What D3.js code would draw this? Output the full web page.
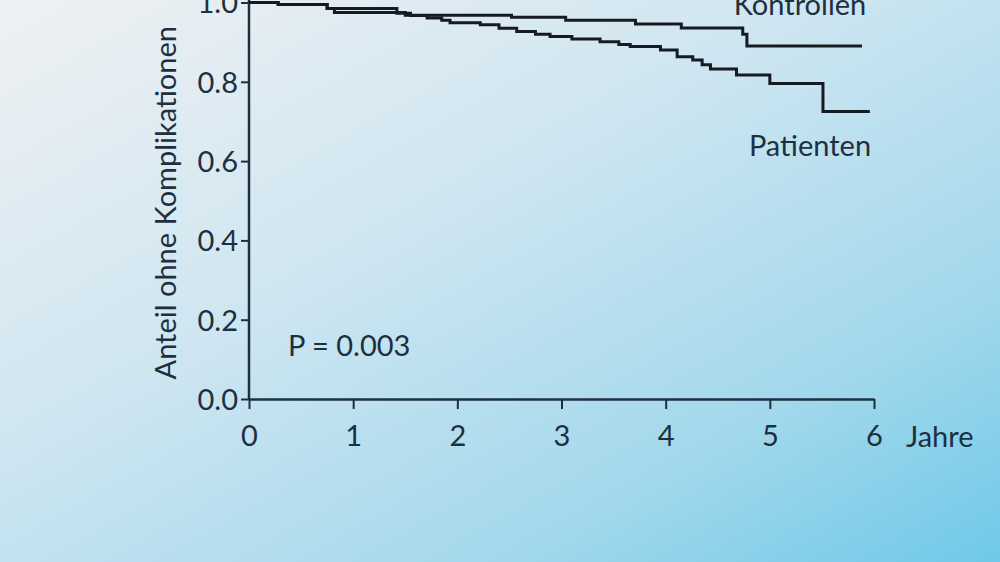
<!DOCTYPE html>
<html>
<head>
<meta charset="utf-8">
<script src="https://cdn.jsdelivr.net/npm/d3@7"></script>
<style>
  html, body { margin: 0; padding: 0; overflow: hidden; }
  svg { display: block; }
</style>
</head>
<body>
<div id="chart"></div>
<script>
// Kaplan-Meier curves (years, share without complications)
const kontrollenJahre = [0, 0.28, 0.75, 0.82, 1.5, 2.52, 3.04, 3.71, 4.15, 4.74, 4.78, 5.885];
const kontrollenAnteil = [1.0, 0.995, 0.985, 0.975, 0.968, 0.963, 0.955, 0.946, 0.936, 0.92, 0.89, 0.89];

const patientenJahre = [0, 0.28, 0.75, 1.42, 1.55, 1.71, 1.85, 1.93, 2.22, 2.4, 2.57, 2.75, 2.89, 3.1, 3.37, 3.55, 3.66, 3.95, 4.11, 4.26, 4.35, 4.43, 4.68, 5.0, 5.51, 5.96];
const patientenAnteil = [1.0, 0.995, 0.985, 0.973, 0.967, 0.961, 0.955, 0.949, 0.944, 0.935, 0.927, 0.92, 0.914, 0.908, 0.901, 0.894, 0.889, 0.88, 0.863, 0.855, 0.843, 0.832, 0.817, 0.796, 0.725, 0.725];

const xTicks = [0, 1, 2, 3, 4, 5, 6];
const yTicks = [0, 0.2, 0.4, 0.6, 0.8, 1.0];

const width = 1000, height = 562;
const font = "Lato, 'Open Sans', sans-serif";
const ink = "#1c3040";

const svg = d3.select("#chart")
  .append("svg")
  .attr("width", width)
  .attr("height", height);

const defs = svg.append("defs");
const grad = defs.append("linearGradient")
  .attr("id", "bg")
  .attr("x1", 0).attr("y1", 0)
  .attr("x2", 1).attr("y2", 1);
grad.append("stop").attr("offset", "0%").attr("stop-color", "#eff1f3");
grad.append("stop").attr("offset", "40%").attr("stop-color", "#cfe6f1");
grad.append("stop").attr("offset", "75%").attr("stop-color", "#a3d8ec");
grad.append("stop").attr("offset", "100%").attr("stop-color", "#6fc9e8");

svg.append("rect")
  .attr("width", width)
  .attr("height", height)
  .attr("fill", "url(#bg)");

const x = d3.scaleLinear().domain([0, 6]).range([249, 874]);
const y = d3.scaleLinear().domain([0, 1]).range([399, 2.5]);

// axes
const xAxis = svg.append("g")
  .attr("transform", `translate(0,${y(0)})`)
  .call(d3.axisBottom(x).tickValues(xTicks).tickFormat(d3.format("d")).tickSize(10).tickSizeOuter(0).tickPadding(16));

const yAxis = svg.append("g")
  .attr("transform", `translate(${x(0)},0)`)
  .call(d3.axisLeft(y).tickValues(yTicks).tickFormat(d3.format(".1f")).tickSize(8).tickSizeOuter(0).tickPadding(3));

[xAxis, yAxis].forEach(g => {
  g.select(".domain").attr("stroke", ink).attr("stroke-width", 2.5);
  g.selectAll(".tick line").attr("stroke", ink).attr("stroke-width", 2);
  g.selectAll(".tick text")
    .attr("fill", ink)
    .style("font-family", font)
    .style("font-size", "29px");
});
yAxis.select(".domain").attr("d", `M0,${y(0)}V0`);
yAxis.selectAll(".tick text").attr("dy", "0.36em");

// curves
const line = d3.line()
  .x(d => x(d[0]))
  .y(d => y(d[1]))
  .curve(d3.curveStepAfter);

const series = [
  d3.zip(kontrollenJahre, kontrollenAnteil),
  d3.zip(patientenJahre, patientenAnteil)
];

svg.append("g")
  .selectAll("path")
  .data(series)
  .join("path")
  .attr("d", line)
  .attr("fill", "none")
  .attr("stroke", "#161b21")
  .attr("stroke-width", 3)
  .attr("stroke-linejoin", "miter");

// labels
const label = (txt, px, py, anchor) => svg.append("text")
  .attr("x", px)
  .attr("y", py)
  .attr("text-anchor", anchor)
  .attr("fill", ink)
  .style("font-family", font)
  .style("font-size", "29px")
  .text(txt);

label("Kontrollen", 800, 15, "middle");
label("Patienten", 810, 156, "middle");
label("P = 0.003", 288, 356, "start");
label("Jahre", 906, 447, "start");

svg.append("text")
  .attr("transform", `translate(176,${y(0.5) + 2}) rotate(-90)`)
  .attr("text-anchor", "middle")
  .attr("fill", ink)
  .style("font-family", font)
  .style("font-size", "29px")
  .text("Anteil ohne Komplikationen");
</script>
</body>
</html>
